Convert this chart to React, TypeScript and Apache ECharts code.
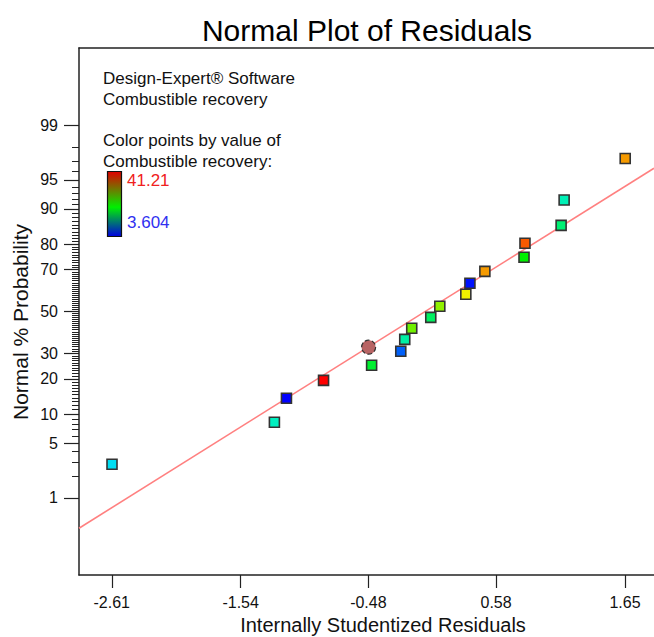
import React, { useEffect, useRef } from "react";
import * as echarts from "echarts";

// Internally studentized residuals (x) and normal % probability (y)
const residuals = [-2.608, -1.26, -1.16, -0.852, -0.453, -0.211, -0.178, -0.12, 0.038, 0.113, 0.329, 0.363, 0.487, 0.812, 0.82, 1.12, 1.145, 1.652];
const probabilities = [2.82, 8.33, 13.92, 19.5, 25.1, 30.96, 36.4, 41.7, 47.1, 52.6, 58.5, 63.8, 69.2, 75.1, 80.3, 85.9, 91.8, 97.2];
// Combustible recovery (used for colouring the points)
const responses = [12.25, 14.89, 3.604, 41.21, 20.53, 7.37, 16.01, 26.81, 18.65, 28.05, 31.81, 4.36, 35.19, 22.41, 37.67, 17.89, 15.26, 35.19];
// highlighted point
const highlightResidual = [-0.478];
const highlightProbability = [32.8];
// fitted line end points
const fitResiduals = [-2.882, 1.891];
const fitProbabilities = [0.34, 96.32];

const responseMin = 3.604;
const responseMax = 41.21;

const xTicks = [-2.61, -1.54, -0.48, 0.58, 1.65];
const yMajorTicks = [1, 5, 10, 20, 30, 50, 70, 80, 90, 95, 99];
const yMinorTicks = Array.from({ length: 99 }, (_, i) => i + 1);
const xRange = [-2.882, 1.891];
const yRange = [0.05, 99.95];

function probit(pct: number): number {
  const p = pct / 100;
  const a = [-3.969683028665376e1, 2.209460984245205e2, -2.759285104469687e2, 1.38357751867269e2, -3.066479806614716e1, 2.506628277459239];
  const b = [-5.447609879822406e1, 1.615858368580409e2, -1.556989798598866e2, 6.680131188771972e1, -1.328068155288572e1];
  const c = [-7.784894002430293e-3, -3.223964580411365e-1, -2.400758277161838, -2.549732539343734, 4.374664141464968, 2.938163982698783];
  const d = [7.784695709041462e-3, 3.224671290700398e-1, 2.445134137142996, 3.754408661907416];
  const pl = 0.02425;
  let q: number, r: number;
  if (p < pl) {
    q = Math.sqrt(-2 * Math.log(p));
    return (((((c[0] * q + c[1]) * q + c[2]) * q + c[3]) * q + c[4]) * q + c[5]) / ((((d[0] * q + d[1]) * q + d[2]) * q + d[3]) * q + 1);
  } else if (p <= 1 - pl) {
    q = p - 0.5;
    r = q * q;
    return ((((((a[0] * r + a[1]) * r + a[2]) * r + a[3]) * r + a[4]) * r + a[5]) * q) / (((((b[0] * r + b[1]) * r + b[2]) * r + b[3]) * r + b[4]) * r + 1);
  } else {
    q = Math.sqrt(-2 * Math.log(1 - p));
    return -(((((c[0] * q + c[1]) * q + c[2]) * q + c[3]) * q + c[4]) * q + c[5]) / ((((d[0] * q + d[1]) * q + d[2]) * q + d[3]) * q + 1);
  }
}

const FONT = "'Liberation Sans', Arial, sans-serif";

export default function App() {
  const ref = useRef<HTMLDivElement>(null);
  useEffect(() => {
    if (!ref.current) return;
    const chart = echarts.init(ref.current, undefined, { renderer: "svg" });
    const majorZ = yMajorTicks.map(probit);
    const minorZ = yMinorTicks.map(probit);
    const axisLine = { show: true, onZero: false, lineStyle: { color: "#222", width: 1.5 } };
    chart.setOption({
      animation: false,
      backgroundColor: "#fff",
      grid: { left: 79, right: 0, top: 48, bottom: 62, containLabel: false },
      xAxis: [
        {
          type: "value",
          position: "bottom",
          min: xRange[0],
          max: xRange[1],
          axisLine,
          axisTick: { show: true, length: 13, customValues: xTicks, lineStyle: { color: "#222", width: 1.2 } },
          axisLabel: {
            show: true,
            customValues: xTicks,
            margin: 19,
            fontSize: 16,
            fontFamily: FONT,
            color: "#111",
            formatter: (v: number) => v.toFixed(2),
          },
          splitLine: { show: false },
        },
        {
          type: "value",
          position: "top",
          min: xRange[0],
          max: xRange[1],
          axisLine,
          axisTick: { show: false },
          axisLabel: { show: false },
          splitLine: { show: false },
        },
      ],
      yAxis: [
        {
          type: "value",
          position: "left",
          min: probit(yRange[0]),
          max: probit(yRange[1]),
          axisLine,
          axisTick: { show: true, length: 15, customValues: majorZ, lineStyle: { color: "#222", width: 1.2 } },
          axisLabel: {
            show: true,
            customValues: majorZ,
            margin: 21,
            fontSize: 16,
            fontFamily: FONT,
            color: "#111",
            formatter: (v: number) => {
              const i = majorZ.findIndex((z) => Math.abs(z - v) < 1e-6);
              return i >= 0 ? String(yMajorTicks[i]) : "";
            },
          },
          splitLine: { show: false },
        },
        {
          type: "value",
          position: "left",
          min: probit(yRange[0]),
          max: probit(yRange[1]),
          axisLine: { show: false, onZero: false },
          axisTick: { show: true, length: 7, customValues: minorZ, lineStyle: { color: "#222", width: 1 } },
          axisLabel: { show: false },
          splitLine: { show: false },
        },
      ],
      visualMap: {
        type: "continuous",
        show: false,
        min: responseMin,
        max: responseMax,
        dimension: 2,
        seriesIndex: 1,
        inRange: { color: ["#0000FF", "#00F0F0", "#00F000", "#F0F000", "#FF0000"] },
      },
      series: [
        {
          type: "line",
          xAxisIndex: 0,
          yAxisIndex: 0,
          data: fitResiduals.map((x, i) => [x, probit(fitProbabilities[i])]),
          symbol: "none",
          lineStyle: { color: "#FF8080", width: 1.6 },
          silent: true,
          z: 1,
        },
        {
          type: "scatter",
          xAxisIndex: 0,
          yAxisIndex: 0,
          data: residuals.map((x, i) => [x, probit(probabilities[i]), responses[i]]),
          symbol: "rect",
          symbolSize: 10,
          itemStyle: { borderColor: "#333", borderWidth: 1.6, opacity: 1 },
          z: 3,
        },
        {
          type: "scatter",
          xAxisIndex: 0,
          yAxisIndex: 0,
          data: highlightResidual.map((x, i) => [x, probit(highlightProbability[i])]),
          symbol: "circle",
          symbolSize: 14,
          itemStyle: { color: "#B86464", opacity: 1, borderColor: "#333", borderWidth: 1.2, borderType: "dashed" },
          z: 4,
        },
      ],
      graphic: [
        {
          type: "text",
          x: 367,
          y: 30,
          style: { text: "Normal Plot of Residuals", font: `30px ${FONT}`, fill: "#000", align: "center", verticalAlign: "middle" },
        },
        {
          type: "text",
          x: 383,
          y: 625,
          style: { text: "Internally Studentized Residuals", font: `20px ${FONT}`, fill: "#111", align: "center", verticalAlign: "middle" },
        },
        {
          type: "text",
          x: 20,
          y: 322,
          rotation: Math.PI / 2,
          style: { text: "Normal % Probability", font: `21px ${FONT}`, fill: "#111", align: "center", verticalAlign: "middle" },
        },
        {
          type: "text",
          x: 103,
          y: 78,
          style: { text: "Design-Expert® Software", font: `17px ${FONT}`, fill: "#111", align: "left", verticalAlign: "middle" },
        },
        {
          type: "text",
          x: 103,
          y: 99,
          style: { text: "Combustible recovery", font: `17px ${FONT}`, fill: "#111", align: "left", verticalAlign: "middle" },
        },
        {
          type: "text",
          x: 103,
          y: 140,
          style: { text: "Color points by value of", font: `17px ${FONT}`, fill: "#111", align: "left", verticalAlign: "middle" },
        },
        {
          type: "text",
          x: 103,
          y: 161,
          style: { text: "Combustible recovery:", font: `17px ${FONT}`, fill: "#111", align: "left", verticalAlign: "middle" },
        },
        {
          type: "rect",
          shape: { x: 107.5, y: 171.5, width: 14, height: 65 },
          style: {
            fill: new echarts.graphic.LinearGradient(0, 0, 0, 1, [
              { offset: 0, color: "#E00000" },
              { offset: 0.55, color: "#00F000" },
              { offset: 1, color: "#0000E0" },
            ]),
            stroke: "#111",
            lineWidth: 1.2,
          },
        },
        {
          type: "text",
          x: 127,
          y: 180,
          style: { text: String(responseMax), font: `17px ${FONT}`, fill: "#F02020", align: "left", verticalAlign: "middle" },
        },
        {
          type: "text",
          x: 127,
          y: 222,
          style: { text: String(responseMin), font: `17px ${FONT}`, fill: "#3030F0", align: "left", verticalAlign: "middle" },
        },
      ],
    });
    return () => chart.dispose();
  }, []);
  return (
    <div style={{ position: "fixed", left: 0, top: 0, width: 654, height: 637, background: "#fff" }}>
      <div ref={ref} style={{ width: 654, height: 637 }} />
    </div>
  );
}
